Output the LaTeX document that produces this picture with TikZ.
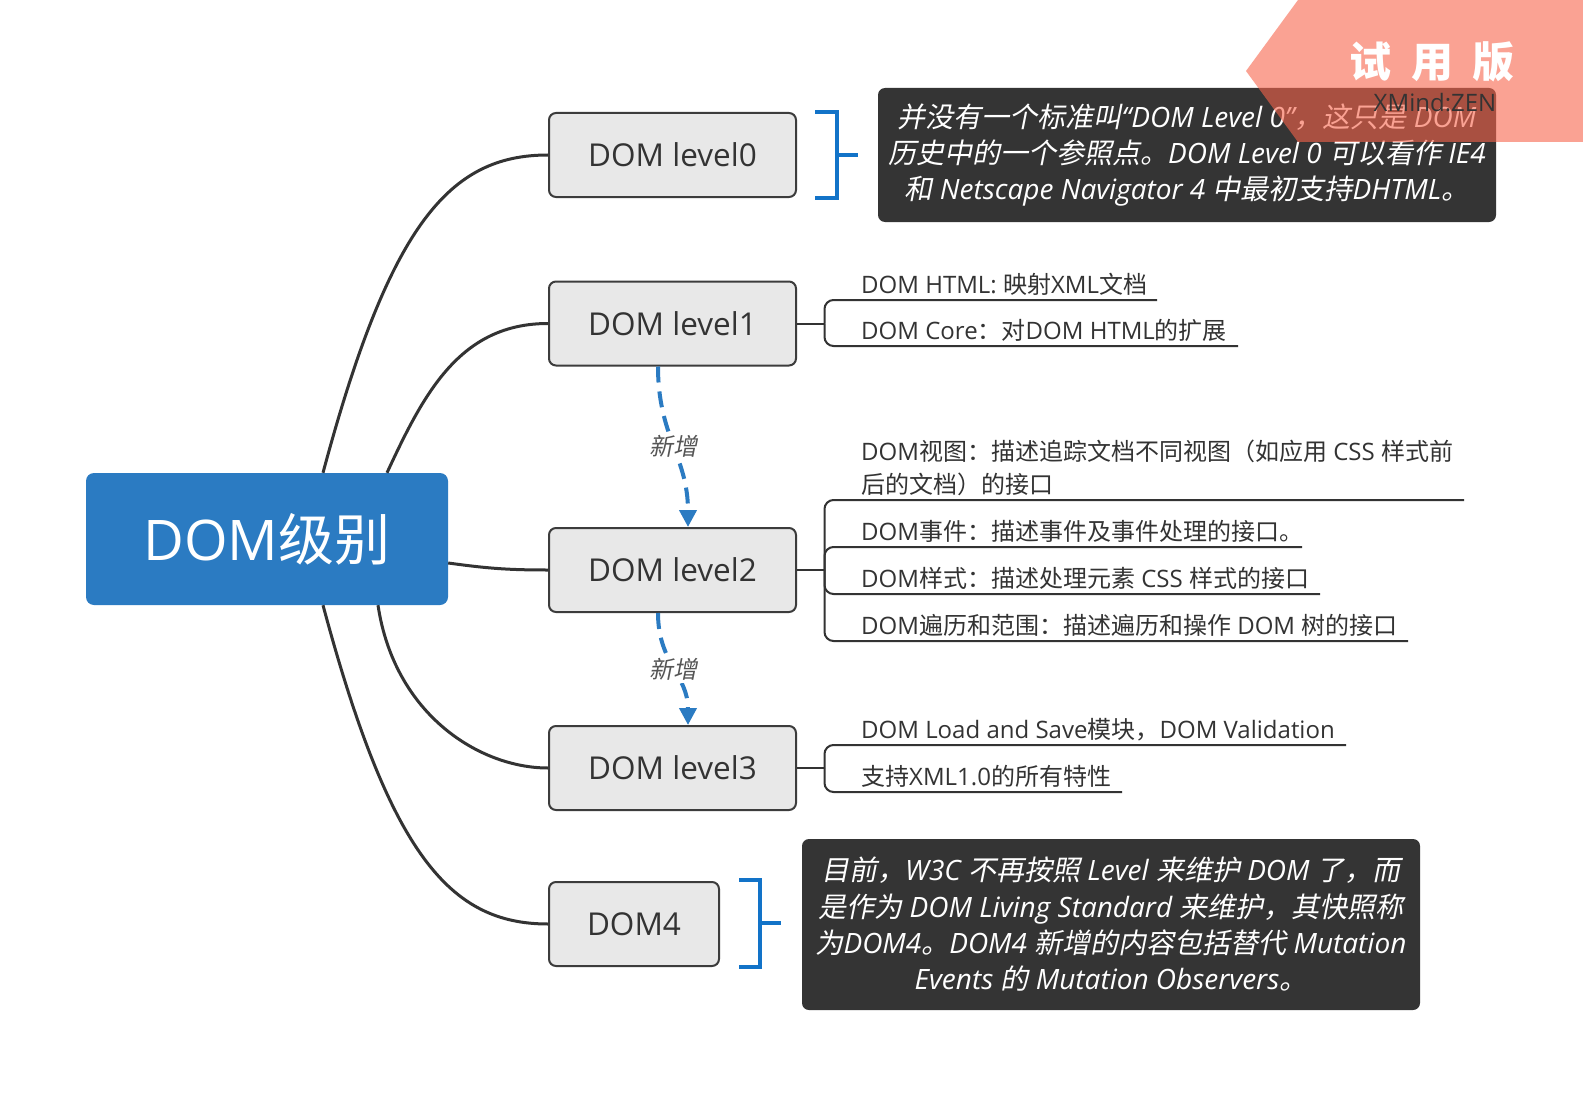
\documentclass[tikz,border=0pt]{standalone}
\usepackage{fontspec}
\setmainfont{Open Sans}
\newfontfamily\latf{Open Sans}
\newfontfamily\cjkf[AutoFakeSlant=0.2]{Noto Sans CJK SC}
\usetikzlibrary{arrows.meta}

\XeTeXinterchartokenstate=1
\chardef\cjkcls=5
\newcount\cjkcnt
\def\setcjkrange#1#2{\cjkcnt=#1\relax\loop\XeTeXcharclass\cjkcnt=\cjkcls\advance\cjkcnt by 1\relax\ifnum\cjkcnt<#2\repeat}
\setcjkrange{"4E00}{"A000}
\setcjkrange{"3000}{"3040}
\setcjkrange{"FF00}{"FFF0}
\XeTeXcharclass"201C=0
\XeTeXcharclass"201D=0
\XeTeXinterchartoks 0 \cjkcls={\cjkf}
\XeTeXinterchartoks 4095 \cjkcls={\cjkf}
\XeTeXinterchartoks \cjkcls 0={\latf}
\XeTeXinterchartoks \cjkcls 4095={\latf}

\definecolor{rootblue}{HTML}{2B7BC2}
\definecolor{boxfill}{HTML}{E8E8E8}
\definecolor{boxline}{HTML}{3C3C3C}
\definecolor{linec}{HTML}{333333}
\definecolor{txt}{HTML}{333333}
\definecolor{notebg}{HTML}{343434}
\definecolor{brkblue}{HTML}{1273C8}
\definecolor{dashblue}{HTML}{2B7BC2}
\definecolor{lblgray}{HTML}{555555}
\definecolor{wmfill}{RGB}{248,100,75}

\begin{document}
\begin{tikzpicture}[x=1pt,y=-1pt,
  rootbox/.style={fill=rootblue, rounded corners=8pt, text=white, minimum width=362pt, minimum height=132pt, inner sep=0pt, font=\fontsize{56}{66}\selectfont},
  conn/.style={draw=linec, line width=3pt},
  lvbox/.style={draw=boxline, line width=2pt, fill=boxfill, rounded corners=7pt, minimum height=84pt, inner sep=0pt, text=txt, font=\fontsize{31.5}{37}\selectfont},
  sub/.style={anchor=base west, inner sep=0pt, text=txt, align=left, font=\fontsize{24}{33}\selectfont},
  uline/.style={draw=linec, line width=2pt, rounded corners=9pt},
  note/.style={fill=notebg, rounded corners=7pt, text=white, align=center, inner sep=0pt, font=\fontsize{28}{36.3}\selectfont\itshape},
  brk/.style={draw=brkblue, line width=4pt},
  newarrow/.style={draw=dashblue, line width=4pt, dash pattern=on 16pt off 9pt, -{Triangle[length=17pt,width=17pt]}},
  newlbl/.style={fill=white, text=lblgray, inner sep=3pt, font=\fontsize{24}{28}\selectfont\itshape}]

\useasboundingbox (0,0) rectangle (1583,1097);
\fill[white] (0,0) rectangle (1583,1097);

% root and level boxes
\node[rootbox] (root) at (267,539) {DOM级别};
\node[lvbox, minimum width=247pt] (l0) at (672.5,155) {DOM level0};
\node[lvbox, minimum width=247pt] (l1) at (672.5,323.5) {DOM level1};
\node[lvbox, minimum width=247pt] (l2) at (672.5,570) {DOM level2};
\node[lvbox, minimum width=247pt] (l3) at (672.5,768) {DOM level3};
\node[lvbox, minimum width=170pt] (d4) at (634,924) {DOM4};

% main connectors
\draw[conn] ([xshift=56pt]root.north) .. controls (390,223) and (450,155) .. (l0.west);
\draw[conn] ([xshift=120pt]root.north) .. controls (424,393) and (460,323.5) .. (l1.west);
\draw[conn] ([yshift=-24pt]root.east) .. controls (485,568) and (505,570) .. (l2.west);
\draw[conn] ([xshift=111pt]root.south) .. controls (394.5,715) and (480,768) .. (l3.west);
\draw[conn] ([xshift=56pt]root.south) .. controls (390,855) and (450,924) .. (d4.west);

% notes
\node[note, minimum width=618pt, minimum height=134pt] (n0) at (1187,155)
  {并没有一个标准叫“DOM Level 0”，这只是 DOM\\历史中的一个参照点。DOM Level 0 可以看作 IE4\\和 Netscape Navigator 4 中最初支持DHTML。};
\node[note, minimum width=618pt, minimum height=171pt] (n4) at (1111,924.5)
  {目前，W3C 不再按照 Level 来维护 DOM 了，而\\是作为 DOM Living Standard 来维护，其快照称\\为DOM4。DOM4 新增的内容包括替代 Mutation\\Events 的 Mutation Observers。};

% brackets
\draw[brk] (815,112) -- (837,112) -- (837,198) -- (815,198);
\coordinate (b0) at (858,155);
\draw[brk] (837,155) -- (b0);
\draw[brk] (739,880) -- (760,880) -- (760,967) -- (739,967);
\coordinate (b4) at (781,923);
\draw[brk] (760,923) -- (b4);

% level1 subtopics
\coordinate (j1) at (824.5,323.5);
\draw[uline] (l1.east) -- (j1);
\node[sub] (s11) at (861,293) {DOM HTML: 映射XML文档};
\node[sub] (s12) at (861,339) {DOM Core：对DOM HTML的扩展};
\coordinate (e11) at (1157,300);
\coordinate (e12) at (1238,346);
\draw[uline] (j1) |- (e11);
\draw[uline] (j1) |- (e12);

% level2 subtopics
\coordinate (j2) at (824.5,570);
\draw[uline] (l2.east) -- (j2);
\node[sub] (s21) at (861,493) {DOM视图：描述追踪文档不同视图（如应用 CSS 样式前\\后的文档）的接口};
\node[sub] (s22) at (861,540) {DOM事件：描述事件及事件处理的接口。};
\node[sub] (s23) at (861,587) {DOM样式：描述处理元素 CSS 样式的接口};
\node[sub] (s24) at (861,634) {DOM遍历和范围：描述遍历和操作 DOM 树的接口};
\coordinate (e21) at (1464,500);
\coordinate (e22) at (1302,547);
\coordinate (e23) at (1320,594);
\coordinate (e24) at (1408,641);
\draw[uline] (j2) |- (e21);
\draw[uline] (j2) |- (e22);
\draw[uline] (j2) |- (e23);
\draw[uline] (j2) |- (e24);

% level3 subtopics
\coordinate (j3) at (824.5,768);
\draw[uline] (l3.east) -- (j3);
\node[sub] (s31) at (861,738) {DOM Load and Save模块，DOM Validation};
\node[sub] (s32) at (861,785) {支持XML1.0的所有特性};
\coordinate (e31) at (1346,745);
\coordinate (e32) at (1122,792);
\draw[uline] (j3) |- (e31);
\draw[uline] (j3) |- (e32);

% dashed "new" arrows
\draw[newarrow] ([xshift=-14.5pt]l1.south) .. controls +(0,70) and +(0,-70) .. ([xshift=15.5pt]l2.north) node[pos=0.5, newlbl] {新增};
\draw[newarrow] ([xshift=-14.5pt]l2.south) .. controls +(0,50) and +(0,-50) .. ([xshift=15.5pt]l3.north) node[pos=0.5, newlbl] {新增};

% watermark
\fill[wmfill, opacity=0.6] (1298,0) -- (1583,0) -- (1583,142) -- (1298,142) -- (1246,71) -- cycle;
\node[text=white, inner sep=0pt, font=\fontsize{42}{42}\selectfont\bfseries] (wm) at (1432,62) {试\hspace{20pt}用\hspace{20pt}版};
\node[text=txt, inner sep=0pt, font=\fontsize{24}{24}\selectfont] (xm) at (1435,103) {XMind:ZEN};
\end{tikzpicture}
\end{document}
